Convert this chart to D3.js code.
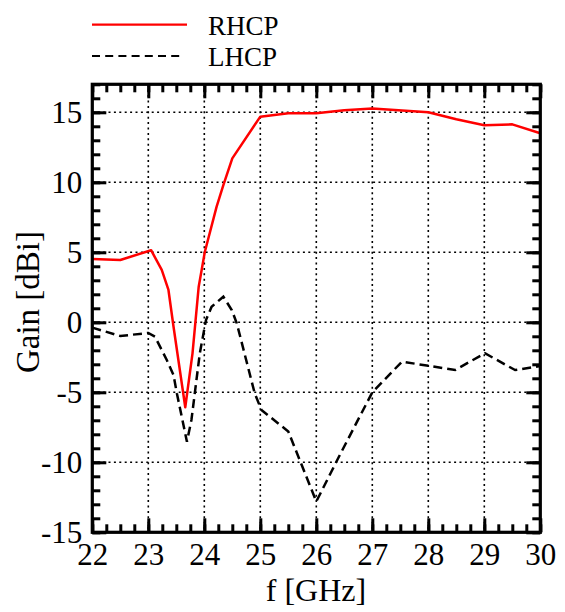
<!DOCTYPE html>
<html><head><meta charset="utf-8">
<script src="https://cdn.jsdelivr.net/npm/d3@7"></script>
<style>body{margin:0;background:#fff;} svg{display:block;} text{font-family:'Liberation Serif','Times New Roman',serif;}</style>
</head><body>
<svg id="c" width="565" height="612"></svg>
<script>
const rhcpF = [22, 22.5, 23.05, 23.24, 23.36, 23.45, 23.66, 23.79, 23.9, 24.01, 24.22, 24.34, 24.5, 25.0, 25.5, 26.0, 26.5, 27.0, 28.0, 28.5, 29.0, 29.5, 30.0];
const rhcpG = [4.52, 4.45, 5.15, 3.74, 2.31, -0.3, -6.07, -2.2, 2.54, 5.04, 8.26, 9.8, 11.71, 14.69, 14.93, 14.93, 15.15, 15.27, 15.0, 14.5, 14.07, 14.14, 13.5];
const lhcpF = [22, 22.5, 23.0, 23.12, 23.33, 23.45, 23.51, 23.69, 23.77, 23.92, 24.03, 24.13, 24.34, 24.49, 24.58, 24.9, 25.02, 25.5, 26.0, 26.39, 27.0, 27.53, 28.48, 29.01, 29.55, 30.0];
const lhcpG = [-0.38, -0.98, -0.76, -1.03, -2.69, -3.76, -5.07, -8.53, -6.98, -2.21, 0.16, 1.11, 1.83, 0.88, -0.07, -5.07, -6.26, -7.8, -12.8, -9.71, -5.0, -2.81, -3.41, -2.21, -3.41, -3.12];
const xTicks = [22, 23, 24, 25, 26, 27, 28, 29, 30];
const yTicks = [-15, -10, -5, 0, 5, 10, 15];
const seriesNames = ["RHCP", "LHCP"];

const L = 92.3, R = 540.3, T = 84.3, B = 532.3;
const font = "'Liberation Serif', 'Times New Roman', serif";
const svg = d3.select("#c");
const x = d3.scaleLinear().domain([22, 30]).range([L, R]);
const y = d3.scaleLinear().domain([-15, 17]).range([B, T]);

// grid
const g = svg.append("g");
g.selectAll("line.gx").data(xTicks.slice(1, -1)).join("line")
  .attr("x1", d => x(d)).attr("x2", d => x(d)).attr("y1", T).attr("y2", B)
  .attr("stroke", "#000").attr("stroke-width", 1.6).attr("stroke-dasharray", "2,3.4");
g.selectAll("line.gy").data(yTicks.slice(1)).join("line")
  .attr("y1", d => y(d)).attr("y2", d => y(d)).attr("x1", L).attr("x2", R)
  .attr("stroke", "#000").attr("stroke-width", 1.6).attr("stroke-dasharray", "2,3.4");

// lines
const line = d3.line().x(d => x(d[0])).y(d => y(d[1]));
svg.append("path").datum(lhcpF.map((f, i) => [f, lhcpG[i]]))
  .attr("d", line).attr("fill", "none").attr("stroke", "#000")
  .attr("stroke-width", 2.5).attr("stroke-dasharray", "9,5");
svg.append("path").datum(rhcpF.map((f, i) => [f, rhcpG[i]]))
  .attr("d", line).attr("fill", "none").attr("stroke", "#ff0000")
  .attr("stroke-width", 2.5).attr("stroke-linejoin", "round");

// ticks
const minorX = d3.range(22, 30.001, 0.25);
const minorY = d3.range(-15, 17.001, 1);
function styleAxis(sel) {
  sel.attr("font-family", null).attr("font-size", null);
  sel.select(".domain").remove();
  sel.selectAll("line").attr("stroke", "#000").attr("stroke-width", 3);
  sel.selectAll("text").style("font-family", font).style("font-size", "31px").attr("fill", "#000");
}
const fmt = d => String(d);
svg.append("g").attr("transform", `translate(0,${B})`)
  .call(d3.axisBottom(x).tickValues(minorX).tickSize(-8).tickFormat("")).call(styleAxis);
svg.append("g").attr("transform", `translate(0,${T})`)
  .call(d3.axisTop(x).tickValues(minorX).tickSize(-8).tickFormat("")).call(styleAxis);
svg.append("g").attr("transform", `translate(${L},0)`)
  .call(d3.axisLeft(y).tickValues(minorY).tickSize(-8).tickFormat("")).call(styleAxis);
svg.append("g").attr("transform", `translate(${R},0)`)
  .call(d3.axisRight(y).tickValues(minorY).tickSize(-8).tickFormat("")).call(styleAxis);

svg.append("g").attr("transform", `translate(0,${B})`)
  .call(d3.axisBottom(x).tickValues(xTicks).tickSizeInner(-14).tickSizeOuter(0).tickPadding(11).tickFormat(fmt))
  .call(styleAxis);
svg.append("g").attr("transform", `translate(0,${T})`)
  .call(d3.axisTop(x).tickValues(xTicks).tickSizeInner(-14).tickSizeOuter(0).tickFormat("")).call(styleAxis);
svg.append("g").attr("transform", `translate(${L},0)`)
  .call(d3.axisLeft(y).tickValues(yTicks).tickSizeInner(-14).tickSizeOuter(0).tickPadding(10).tickFormat(fmt))
  .call(styleAxis);
svg.append("g").attr("transform", `translate(${R},0)`)
  .call(d3.axisRight(y).tickValues(yTicks).tickSizeInner(-14).tickSizeOuter(0).tickFormat("")).call(styleAxis);

// frame
svg.append("rect").attr("x", L).attr("y", T).attr("width", R - L).attr("height", B - T)
  .attr("fill", "none").attr("stroke", "#000").attr("stroke-width", 3.2);

// axis titles
svg.append("text").attr("x", 316).attr("y", 601).attr("text-anchor", "middle")
  .style("font-size", "32px").text("f [GHz]");
svg.append("text").attr("transform", "translate(39,302) rotate(-90)").attr("text-anchor", "middle")
  .style("font-size", "33px").text("Gain [dBi]");

// legend
const leg = svg.append("g");
leg.append("line").attr("x1", 92).attr("x2", 187).attr("y1", 24.7).attr("y2", 24.7)
  .attr("stroke", "#ff0000").attr("stroke-width", 2.2);
leg.append("line").attr("x1", 92).attr("x2", 181).attr("y1", 56).attr("y2", 56)
  .attr("stroke", "#000").attr("stroke-width", 2.2).attr("stroke-dasharray", "8,5.2");
leg.append("text").attr("x", 208).attr("y", 35).style("font-size", "27px").text(seriesNames[0]);
leg.append("text").attr("x", 208).attr("y", 66).style("font-size", "27px").text(seriesNames[1]);
</script>
</body></html>
